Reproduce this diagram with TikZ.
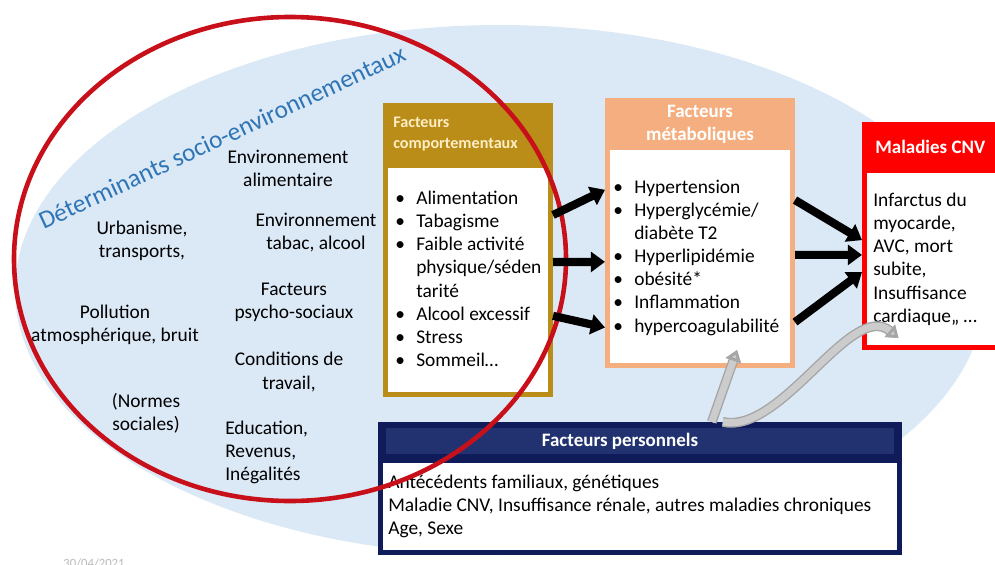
\documentclass[tikz,border=0pt]{standalone}
\usepackage{fontspec}
\setmainfont{Carlito}
\usetikzlibrary{calc}
\usetikzlibrary{arrows.meta}

\definecolor{bgblue}{RGB}{219,232,246}
\definecolor{ringred}{RGB}{200,16,26}
\definecolor{titleblue}{RGB}{46,117,182}
\definecolor{goldc}{RGB}{186,140,24}
\definecolor{goldtxt}{RGB}{255,238,196}
\definecolor{salmon}{RGB}{244,174,128}
\definecolor{cnvred}{RGB}{255,0,0}
\definecolor{navy}{RGB}{16,28,90}
\definecolor{navyband}{RGB}{34,50,112}

\newlength\px
\setlength\px{0.025cm}
\newcommand\itm{\makebox[21\px][l]{\textbullet}}
\newcommand\cnt{\hspace*{21\px}}

\begin{document}
\begin{tikzpicture}[x=0.025cm,y=-0.025cm,
  txt/.style={font=\fontsize{13.8}{16.4}\selectfont, align=center, inner sep=0pt},
  lst/.style={font=\fontsize{13.8}{16.4}\selectfont, align=left, inner sep=0pt, anchor=north west},
  boxframe/.style={draw=#1, fill=white, line width=5\px, inner sep=0pt},
  head/.style={fill=#1, inner sep=0pt, anchor=north},
  headtxt/.style={text=white, inner sep=0pt, font=\bfseries\fontsize{13.5}{16.4}\selectfont},
  fat/.style={line width=5.8pt, -{Triangle[length=10pt,width=14pt]}},
  stone/.style={line width=5pt, draw=gray!40, -{Triangle[length=8pt,width=11pt,fill=gray!40,color=gray!70]},
    preaction={draw=gray!70, line width=7pt, -{Triangle[length=8pt,width=11pt]}}}
]
\useasboundingbox (0,0) rectangle (995,565);
% fond
\fill[bgblue] (500,290) ellipse [x radius=485, y radius=265];

\node (detlabel) [rotate=25, text=titleblue, font=\fontsize{18}{20}\selectfont, inner sep=0pt] at (222,137) {Déterminants socio-environnementaux};

% determinants
\node (envalim) [txt] at (288,168) {Environnement\\alimentaire};
\node (urban) [txt] at (142,241) {Urbanisme,\\transports,};
\node (envtabac) [txt] at (316,233) {Environnement\\tabac, alcool};
\node (pollution) [txt] at (115,325) {Pollution\\atmosphérique, bruit};
\node (psycho) [txt] at (294,302) {Facteurs\\psycho-sociaux};
\node (travail) [txt] at (289,372) {Conditions de\\travail,};
\node (normes) [txt] at (146,413) {(Normes\\sociales)};
\node (educ) [txt, align=left, anchor=west] at (225,452) {Education,\\Revenus,\\Inégalités};

% facteurs comportementaux
\node (comp) [boxframe=goldc, minimum width=165\px, minimum height=289\px] at (468,250) {};
\node (comphead) [head=goldc, minimum width=170\px, minimum height=65\px] at (468,103) {};
\node (comptitle) [anchor=north west, align=left, text=goldtxt, inner sep=0pt, font=\bfseries\fontsize{11.5}{15}\selectfont] at (393,117) {Facteurs\\comportementaux};
\node (complist) [lst] at (395,191) {\itm Alimentation\\ \itm Tabagisme\\ \itm Faible activité\\ \cnt physique/séden\\ \cnt tarité\\ \itm Alcool excessif\\ \itm Stress\\ \itm Sommeil…};

% facteurs metaboliques
\node (meta) [boxframe=salmon, minimum width=185\px, minimum height=265\px] at (700,233) {};
\node (metahead) [head=salmon, minimum width=190\px, minimum height=52\px] at (700,98) {};
\node (metatitle) [headtxt, align=center] at (700,124) {Facteurs\\métaboliques};
\node (metalist) [lst] at (613,180) {\itm Hypertension\\ \itm Hyperglycémie/\\ \cnt diabète T2\\ \itm Hyperlipidémie\\ \itm obésité*\\ \itm Inflammation\\ \itm hypercoagulabilité};

% maladies
\node (cnv) [boxframe=cnvred, minimum width=150\px, minimum height=223\px, anchor=north west] at (862,122) {};
\node (cnvhead) [head=cnvred, anchor=north west, minimum width=160\px, minimum height=51\px] at (862,122) {};
\node (cnvtitle) [headtxt, anchor=west] at (875,147) {Maladies CNV};
\node (cnvlist) [lst] at (873,193) {Infarctus du\\myocarde,\\AVC, mort\\subite,\\Insuffisance\\cardiaque,, …};

% facteurs personnels
\node (pers) [boxframe=navy, minimum width=519\px, minimum height=128\px] at (640,488.5) {};
\node (pershead) [head=navy, minimum width=524\px, minimum height=41\px] at (640,422) {};
\node (persband) [fill=navyband, inner sep=0pt, minimum width=508\px, minimum height=26\px] at (640,441) {};
\node (perstitle) [headtxt] at (620,441) {Facteurs personnels};
\node (perslist) [lst] at (388,475) {Antécédents familiaux, génétiques\\Maladie CNV, Insuffisance rénale, autres maladies chroniques\\Age, Sexe};

\draw[ringred, line width=4.6\px] (290,259) ellipse [x radius=276, y radius=242];

% fleches
\draw[fat] ($(comp.north east)!0.381!(comp.south east)$) -- ($(meta.north west)!0.34!(meta.south west)$);
\draw[fat] ($(comp.north east)!0.541!(comp.south east)$) -- ($(meta.north west)!0.607!(meta.south west)$);
\draw[fat] ($(comp.north east)!0.724!(comp.south east)$) -- ($(meta.north west)!0.85!(meta.south west)$);
\draw[fat] ($(meta.north east)!0.378!(meta.south east)$) -- ($(cnv.north west)!0.518!(cnv.south west)$);
\draw[fat] ($(meta.north east)!0.581!(meta.south east)$) -- ($(cnv.north west)!0.583!(cnv.south west)$);
\draw[fat] ($(meta.north east)!0.83!(meta.south east)$) -- ($(cnv.north west)!0.658!(cnv.south west)$);

\draw[stone] ($(pers.north west)!0.637!(pers.north east)$) -- ($(meta.south west)!0.695!(meta.south east)+(0,-18)$);
\draw[stone] ($(pers.north west)!0.658!(pers.north east)$) to[out=-12, in=140, looseness=0.8] ($(cnv.south west)!0.235!(cnv.south east)+(0,-12)$);

\node (date) [anchor=north, text=gray!55, font=\fontsize{9}{10}\selectfont, inner sep=0pt] at (94,558) {30/04/2021};
\end{tikzpicture}
\end{document}
